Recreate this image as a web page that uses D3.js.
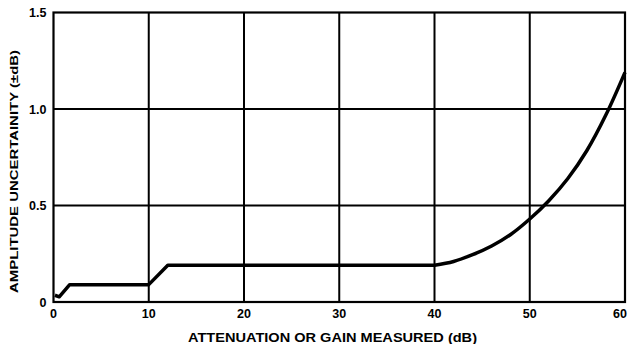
<!DOCTYPE html>
<html>
<head>
<meta charset="utf-8">
<script src="https://cdn.jsdelivr.net/npm/d3@7"></script>
<style>
  html, body { margin: 0; padding: 0; background: #fff; }
  svg { display: block; }
  text { font-family: "Liberation Sans", Arial, sans-serif; font-weight: bold; fill: #000; }
</style>
</head>
<body>
<script>
// ---- data ----
const xTicks = [0, 10, 20, 30, 40, 50, 60];
const yTicks = [0, 0.5, 1.0, 1.5];
const yTickLabels = ["0", "0.5", "1.0", "1.5"];
// piecewise-linear low-attenuation part
const stepX = [0.15, 0.6, 1.7, 10, 12, 40];
const stepY = [0.035, 0.027, 0.09, 0.09, 0.19, 0.19];
// rising tail above 40 dB
const tailX = [40, 42, 44, 46, 48, 50, 52, 54, 56, 58, 60];
const tailY = [0.19, 0.21, 0.245, 0.29, 0.35, 0.43, 0.525, 0.64, 0.785, 0.97, 1.19];
const xTitle = "ATTENUATION OR GAIN MEASURED (dB)";
const yTitle = "AMPLITUDE UNCERTAINITY (\u00B1dB)";

const W = 628, H = 344;
const m = { left: 53.5, right: 3, top: 12.5, bottom: 42 };

const svg = d3.select("body").append("svg").attr("width", W).attr("height", H);

const x = d3.scaleLinear().domain([0, 60]).range([m.left, W - m.right]);
const y = d3.scaleLinear().domain([0, 1.5]).range([H - m.bottom, m.top]);

// grid
const g = svg.append("g").attr("stroke", "#000").attr("stroke-width", 2);
xTicks.slice(1, -1).forEach(t => {
  g.append("line").attr("x1", x(t)).attr("x2", x(t)).attr("y1", y(0)).attr("y2", y(1.5));
});
yTicks.slice(1, -1).forEach(t => {
  g.append("line").attr("x1", x(0)).attr("x2", x(60)).attr("y1", y(t)).attr("y2", y(t));
});
// frame
svg.append("rect")
  .attr("x", x(0)).attr("y", y(1.5))
  .attr("width", x(60) - x(0)).attr("height", y(0) - y(1.5))
  .attr("fill", "none").attr("stroke", "#000").attr("stroke-width", 2.2);

// x tick labels
xTicks.forEach((t, i) => {
  const last = i === xTicks.length - 1;
  svg.append("text")
    .attr("x", last ? x(t) - 5 : x(t))
    .attr("y", y(0) + 16)
    .attr("text-anchor", "middle")
    .attr("font-size", 12.5)
    .text(t);
});
// y tick labels
yTicks.forEach((t, i) => {
  svg.append("text")
    .attr("x", m.left - 7)
    .attr("y", y(t) + 4.5)
    .attr("text-anchor", "end")
    .attr("font-size", 12.5)
    .text(yTickLabels[i]);
});

// axis titles
svg.append("text")
  .attr("x", 332.5).attr("y", 342)
  .attr("text-anchor", "middle")
  .attr("font-size", 12)
  .attr("textLength", 289).attr("lengthAdjust", "spacingAndGlyphs")
  .text(xTitle);
svg.append("text")
  .attr("transform", `translate(18,171.5) rotate(-90)`)
  .attr("text-anchor", "middle")
  .attr("font-size", 11.5)
  .attr("textLength", 243).attr("lengthAdjust", "spacingAndGlyphs")
  .text(yTitle);

// data curve
const stepData = stepX.map((v, i) => [v, stepY[i]]);
const tailData = tailX.map((v, i) => [v, tailY[i]]);
svg.append("path")
  .datum(stepData)
  .attr("fill", "none").attr("stroke", "#000").attr("stroke-width", 3.5)
  .attr("stroke-linejoin", "round")
  .attr("d", d3.line().x(d => x(d[0])).y(d => y(d[1])).curve(d3.curveLinear));
svg.append("path")
  .datum(tailData)
  .attr("fill", "none").attr("stroke", "#000").attr("stroke-width", 3.5)
  .attr("stroke-linecap", "butt")
  .attr("d", d3.line().x(d => x(d[0])).y(d => y(d[1])).curve(d3.curveCatmullRom.alpha(0.5)));
</script>
</body>
</html>
